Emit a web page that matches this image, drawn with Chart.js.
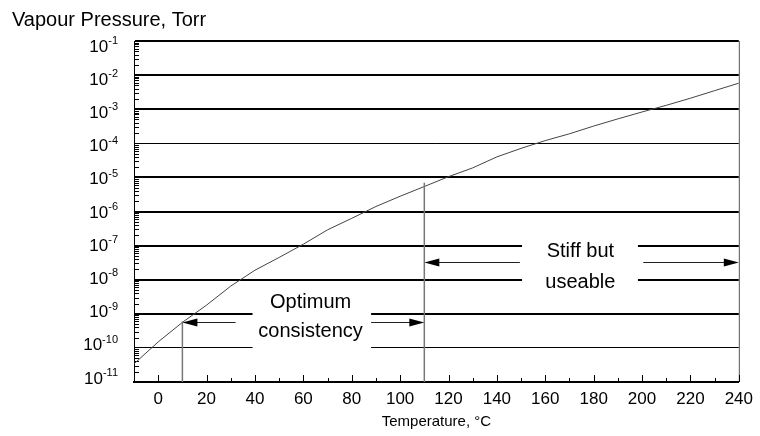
<!DOCTYPE html>
<html lang="en">
<head>
<meta charset="UTF-8">
<title>Vapour Pressure</title>
<script src="https://cdn.jsdelivr.net/npm/chart.js"></script>
<style>
    html, body { margin: 0; padding: 0; background: #fff; }
</style>
</head>
<body>
<canvas id="vp" width="760" height="436"></canvas>
<script>
// temperature, deg C
const temps = [-10, 0, 10, 20, 30, 40, 50, 60, 70, 80, 90, 100, 110, 120, 130, 140, 150, 160, 170, 180, 190, 200, 210, 220, 230, 240];
// vapour pressure, Torr
const pressures = [3.4e-11, 1.5e-10, 5.6e-10, 1.8e-9, 6.5e-9, 1.9e-8, 4.5e-8, 1.1e-7, 2.9e-7, 6.3e-7, 1.4e-6, 2.8e-6, 5.4e-6,
    1.05e-5, 1.9e-5, 4.0e-5, 7.1e-5, 1.2e-4, 1.9e-4, 3.2e-4, 5.2e-4, 8.3e-4, 1.3e-3, 2.1e-3, 3.5e-3, 5.8e-3];

const xTicks = [0, 20, 40, 60, 80, 100, 120, 140, 160, 180, 200, 220, 240];
const xMinorTicks = [10, 30, 50, 70, 90, 110, 130, 150, 170, 190, 210, 230];
const yExponents = [-1, -2, -3, -4, -5, -6, -7, -8, -9, -10, -11];
const thinExponents = [-4, -10];

// range limits drawn as vertical lines: temperature and top of line
const limitTemps = [10, 110];
const limitTops = [6e-10, 7e-6];

// labelled ranges
const ranges = [
    { from: 10, to: 110, at: 5.6e-10, gap: [32, 88], box: [39, 88, 5e-9, 8e-11], lines: ['Optimum', 'consistency'], lineAt: [2.1e-9, 3.0e-10], mid: 63 },
    { from: 110, to: 240, at: 3.2e-8, gap: [149.5, 200.5], box: [150.4, 198.3, 1.4e-7, 6.3e-9], lines: ['Stiff but', 'useable'], lineAt: [6.5e-8, 8.5e-9], mid: 174.5 }
];

const FONT = "'Liberation Sans', Arial, sans-serif";

function arrowHead(ctx, x, y, dir) {
    ctx.beginPath();
    ctx.moveTo(x, y);
    ctx.lineTo(x - dir * 15, y - 4);
    ctx.lineTo(x - dir * 15, y + 4);
    ctx.closePath();
    ctx.fill();
}

const vpDecor = {
    id: 'vpDecor',
    beforeDatasetsDraw(chart) {
        const { ctx, scales: { x, y }, chartArea: a } = chart;
        ctx.save();
        // white space behind the range labels
        ctx.fillStyle = '#fff';
        ranges.forEach(r => {
            const l = x.getPixelForValue(r.box[0]), rt = x.getPixelForValue(r.box[1]);
            const t = y.getPixelForValue(r.box[2]), b = y.getPixelForValue(r.box[3]);
            ctx.fillRect(l, t, rt - l, b - t);
        });
        // right frame
        ctx.strokeStyle = '#555';
        ctx.lineWidth = 1;
        ctx.beginPath();
        ctx.moveTo(a.right + 0.5, a.top);
        ctx.lineTo(a.right + 0.5, a.bottom);
        ctx.stroke();
        // minor log ticks on the left axis
        ctx.strokeStyle = '#000';
        ctx.beginPath();
        yExponents.slice(1).forEach(e => {
            for (let m = 2; m <= 9; m++) {
                const py = Math.round(y.getPixelForValue(m * Math.pow(10, e))) + 0.5;
                ctx.moveTo(a.left, py);
                ctx.lineTo(a.left + 5, py);
            }
        });
        ctx.stroke();
        // inward ticks on the bottom axis
        ctx.beginPath();
        xTicks.forEach(v => {
            const px = Math.round(x.getPixelForValue(v)) + 0.5;
            ctx.moveTo(px, a.bottom);
            ctx.lineTo(px, a.bottom - 7);
        });
        xMinorTicks.forEach(v => {
            const px = Math.round(x.getPixelForValue(v)) + 0.5;
            ctx.moveTo(px, a.bottom);
            ctx.lineTo(px, a.bottom - 4);
        });
        ctx.stroke();
        ctx.restore();
    },
    afterDatasetsDraw(chart) {
        const { ctx, scales: { x, y }, chartArea: a } = chart;
        ctx.save();
        // range limits
        ctx.strokeStyle = '#777';
        ctx.lineWidth = 1.5;
        limitTemps.forEach((t, i) => {
            const px = x.getPixelForValue(t);
            ctx.beginPath();
            ctx.moveTo(px, a.bottom);
            ctx.lineTo(px, y.getPixelForValue(limitTops[i]));
            ctx.stroke();
        });
        // arrows and labels
        ctx.strokeStyle = '#222';
        ctx.fillStyle = '#000';
        ctx.lineWidth = 1;
        ranges.forEach(r => {
            const py = Math.round(y.getPixelForValue(r.at)) + 0.5;
            const x0 = x.getPixelForValue(r.from), x1 = x.getPixelForValue(r.to);
            ctx.beginPath();
            ctx.moveTo(x0 + 10, py);
            ctx.lineTo(x.getPixelForValue(r.gap[0]), py);
            ctx.moveTo(x.getPixelForValue(r.gap[1]), py);
            ctx.lineTo(x1 - 10, py);
            ctx.stroke();
            arrowHead(ctx, x0, py, -1);
            arrowHead(ctx, x1, py, 1);
            ctx.font = '20px ' + FONT;
            ctx.textAlign = 'center';
            ctx.textBaseline = 'middle';
            r.lines.forEach((s, i) => {
                ctx.fillText(s, x.getPixelForValue(r.mid), y.getPixelForValue(r.lineAt[i]));
            });
        });
        ctx.restore();
    },
    afterDraw(chart) {
        const { ctx, scales: { y } } = chart;
        ctx.save();
        ctx.fillStyle = '#000';
        // y axis title
        ctx.font = '20px ' + FONT;
        ctx.textAlign = 'left';
        ctx.textBaseline = 'alphabetic';
        ctx.fillText('Vapour Pressure, Torr', 12, 26);
        // decade labels, 10 with a raised exponent
        yExponents.forEach((e, i) => {
            const py = y.getPixelForValue(Math.pow(10, e)) + 6 - i * 0.9;
            const right = 118;
            ctx.textAlign = 'right';
            ctx.textBaseline = 'middle';
            ctx.font = '11px ' + FONT;
            const exp = '-' + Math.abs(e);
            const w = ctx.measureText(exp).width;
            ctx.fillText(exp, right, py - 6);
            ctx.font = '17px ' + FONT;
            ctx.fillText('10', right - w, py);
        });
        ctx.restore();
    }
};

new Chart(document.getElementById('vp'), {
    type: 'line',
    data: {
        datasets: [{
            data: temps.map((t, i) => ({ x: t, y: pressures[i] })),
            borderColor: '#444',
            borderWidth: 1,
            pointRadius: 0,
            tension: 0
        }]
    },
    options: {
        responsive: false,
        animation: false,
        devicePixelRatio: 1,
        layout: { padding: { left: 0, top: 41, right: 18, bottom: 0 } },
        plugins: { legend: { display: false }, tooltip: { enabled: false } },
        scales: {
            x: {
                type: 'linear',
                min: -10,
                max: 240,
                afterBuildTicks: s => { s.ticks = xTicks.map(v => ({ value: v })); },
                afterFit: s => { s.height = 54; },
                grid: { display: false, drawTicks: false },
                border: { display: true, color: '#000', width: 2 },
                ticks: { color: '#000', padding: 7, maxRotation: 0, autoSkip: false, font: { family: FONT, size: 17 } },
                title: { display: true, text: 'Temperature, °C', color: '#000', font: { family: FONT, size: 15 }, padding: { top: 0, bottom: 5 } }
            },
            y: {
                type: 'logarithmic',
                min: 1e-11,
                max: 1e-1,
                afterBuildTicks: s => { s.ticks = yExponents.map(e => ({ value: Math.pow(10, e) })); },
                afterFit: s => { s.width = 134; },
                ticks: { display: false },
                grid: {
                    drawTicks: false,
                    color: '#000',
                    lineWidth: c => (c.tick && thinExponents.includes(Math.round(Math.log10(c.tick.value)))) ? 1 : 2
                },
                border: { display: true, color: '#000', width: 1 }
            }
        }
    },
    plugins: [vpDecor]
});
</script>
</body>
</html>
